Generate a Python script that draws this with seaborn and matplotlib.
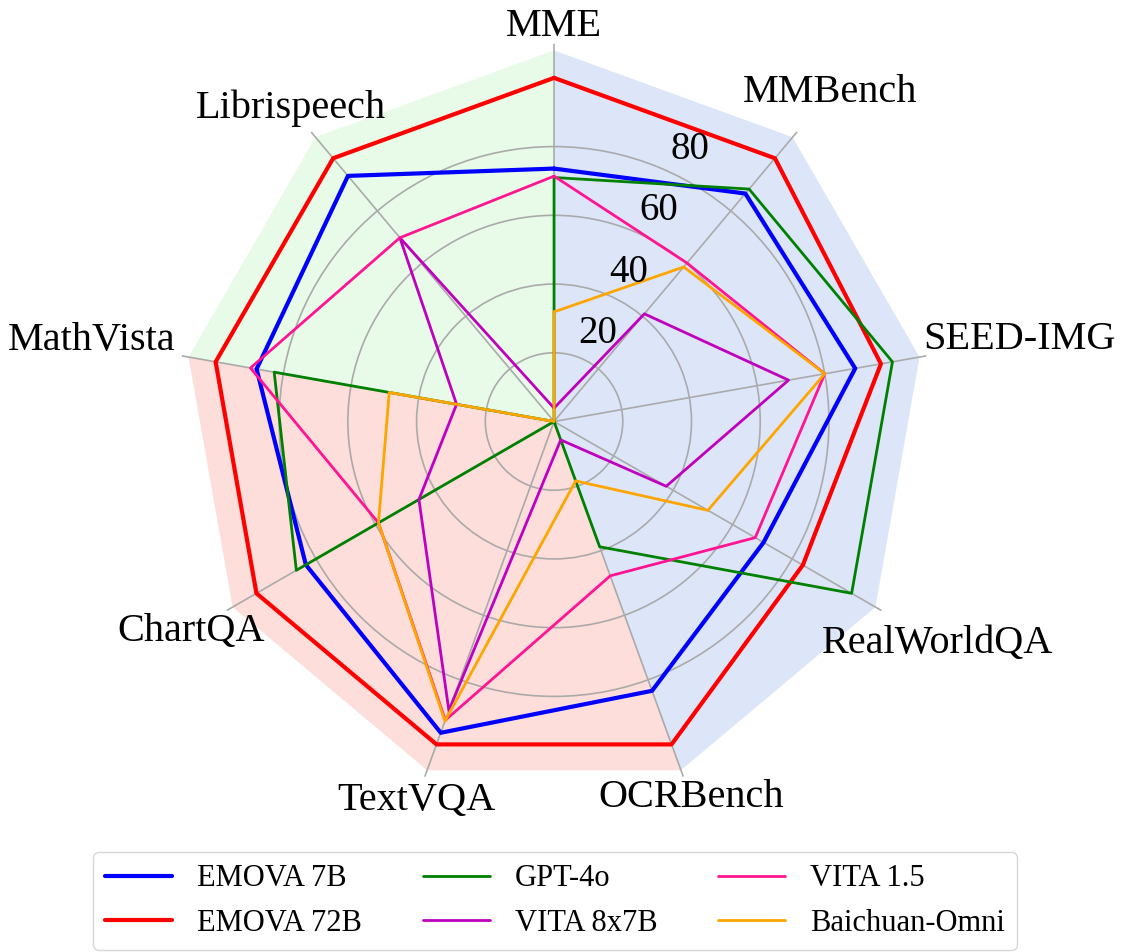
import numpy as np
import pandas as pd
import seaborn as sns
import matplotlib.pyplot as plt

# benchmark axes, clockwise from the top
categories = ['MME', 'MMBench', 'SEED-IMG', 'RealWorldQA', 'OCRBench',
              'TextVQA', 'ChartQA', 'MathVista', 'Librispeech']

models = ['EMOVA 7B', 'EMOVA 72B', 'GPT-4o', 'VITA 8x7B', 'VITA 1.5', 'Baichuan-Omni']

# normalised scores
emova_7b = [73.6, 86.6, 89.0, 70.4, 83.4, 96.4, 83.4, 87.9, 93.3]
emova_72b = [100, 100, 96.6, 83.6, 100, 100, 100, 100, 100]
gpt_4o = [71.0, 88.3, 100, 100, 38.8, 0, 86.6, 82.7, 0]
vita_8x7b = [3.9, 40.9, 69.3, 37.7, 5.7, 89.5, 45.4, 28.8, 69.8]
vita_15 = [71.4, 60.2, 80.0, 67.6, 47.8, 92.5, 59.0, 89.7, 69.8]
baichuan_omni = [31.9, 58.7, 80.0, 51.7, 18.4, 92.8, 59.0, 48.7, 0]

r_ticks = [20, 40, 60, 80]

# background sectors: (first axis index, last axis index, colour)
sectors = [(0, 4, '#DDE6F8'), (4, 7, '#FDDEDA'), (7, 9, '#E8FBE8')]

colors = ['#0000FF', '#FF0000', '#008000', '#BF00BF', '#FF1493', '#FFA500']
widths = [3.0, 3.0, 2.0, 2.0, 2.0, 2.0]

sns.set_theme(style='white')
plt.rcParams['font.family'] = ['Liberation Serif', 'DejaVu Serif']
plt.rcParams['text.color'] = 'black'

n = len(categories)
angles = np.linspace(0, 2 * np.pi, n, endpoint=False)

# long table, each polygon closed by repeating its first point
scores = [emova_7b, emova_72b, gpt_4o, vita_8x7b, vita_15, baichuan_omni]
rows = []
for m, vals in zip(models, scores):
    for i in range(n + 1):
        rows.append({'model': m, 'theta': 2 * np.pi * i / n, 'score': vals[i % n]})
df = pd.DataFrame(rows)

fig = plt.figure(figsize=(11.22, 9.52), dpi=100)
ax = fig.add_axes([0.1569, 0.1602, 0.6738, 0.7941], projection='polar')
ax.set_theta_offset(np.pi / 2)
ax.set_theta_direction(-1)

r_max = 110
r_fill = 108
for a, b, c in sectors:
    th = [0] + [2 * np.pi * k / n for k in range(a, b + 1)]
    rr = [0] + [r_fill] * (b - a + 1)
    ax.fill(th, rr, color=c, lw=0, zorder=0.5)

sns.lineplot(data=df, x='theta', y='score', hue='model', size='model',
             hue_order=models, size_order=models,
             palette=dict(zip(models, colors)), sizes=dict(zip(models, widths)),
             sort=False, estimator=None, legend=False, ax=ax)

ax.set_ylim(0, r_max)
ax.set_xticks(angles)
ax.set_xticklabels([])
ax.set_yticks(r_ticks)
ax.set_yticklabels([])
ax.set_xlabel('')
ax.set_ylabel('')
ax.grid(True, color='#AAAAAA', linewidth=1.2)
ax.spines['polar'].set_visible(False)
ax.set_facecolor('none')

# axis names around the outside
label_r = [115, 125, 137.5, 129, 116.5, 117.5, 122, 136.5, 119]
for ang, name, rl in zip(angles, categories, label_r):
    ax.text(ang, rl, name, ha='center', va='center', fontsize=29, color='black')

# radial tick values
tick_theta = np.deg2rad(26.5)
for v in r_ticks:
    ax.text(tick_theta, v + 8.5, str(v), ha='center', va='center', fontsize=28,
            color='black')

leg = ax.legend(ax.lines[:len(models)], models, loc='center', ncol=3,
                bbox_to_anchor=(555 / 1122, 1 - 901 / 952),
                bbox_transform=fig.transFigure,
                fontsize=22, handlelength=2.2, columnspacing=2.0, frameon=True,
                edgecolor='#CCCCCC')
for t in leg.get_texts():
    t.set_color('black')

fig.savefig('out.png', dpi=100)
